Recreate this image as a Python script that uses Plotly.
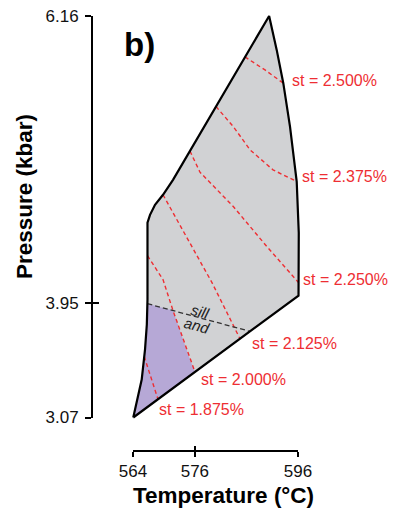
import numpy as np
import plotly.graph_objects as go

# ---------------- data (T in °C, P in kbar) ----------------
field_T = [564.05, 565.69, 566.33, 566.68, 566.81, 566.81, 567.30, 568.27, 569.82, 571.76,
           590.4, 591.87, 593.15, 594.45, 595.75, 596.15, 596.1, 564.05]
field_P = [3.07, 3.362, 3.593, 3.785, 3.977, 4.569, 4.630, 4.707, 4.784, 4.899,
           6.16, 5.899, 5.643, 5.309, 4.886, 4.492, 4.008, 3.07]

and_T = [564.05, 565.69, 566.33, 566.68, 566.79, 571.76, 575.05, 576.02, 564.05]
and_P = [3.07, 3.362, 3.593, 3.785, 3.946, 3.893, 3.516, 3.42, 3.07]

sill_T = [566.79, 586.69]
sill_P = [3.946, 3.733]

iso_labels = ["st = 2.500%", "st = 2.375%", "st = 2.250%", "st = 2.125%", "st = 2.000%", "st = 1.875%"]
iso_T = [
    [585.72, 589.6, 593.15],
    [580.10, 583.45, 586.69, 591.15, 595.75],
    [575.05, 576.99, 583.45, 589.93, 596.1],
    [569.82, 574.67, 579.32, 584.75],
    [566.81, 569.82, 571.76, 575.05, 576.02],
    [566.18, 568.85],
]
iso_P = [
    [5.845, 5.745, 5.643],
    [5.463, 5.309, 5.130, 4.976, 4.886],
    [5.12, 4.958, 4.694, 4.387, 4.108],
    [4.784, 4.438, 4.108, 3.676],
    [4.315, 4.131, 3.893, 3.516, 3.42],
    [3.539, 3.210],
]

x_ticks = [564, 576, 596]
y_ticks = [3.07, 3.95, 6.16]
x_range = [564, 596]
y_range = [3.07, 6.16]

# ---------------- styling / layout ----------------
OFF = 8  # page body margin
W, H = 397 - OFF, 508 - OFF
ML = 92 - OFF
MT = 10 - OFF
MB = H - (451 - OFF)
MR = W - (305 - OFF)
pw, ph = W - ML - MR, H - MT - MB

def px_x(p):  # reference-screenshot pixel -> paper x
    return (p - OFF - ML) / pw

def px_y(p):
    return (H - MB - (p - OFF)) / ph

xdom = [px_x(133), px_x(298)]
ydom = [px_y(417.5), px_y(16)]

def full_range(dom, rng):
    span = (rng[1] - rng[0]) / (dom[1] - dom[0])
    return [rng[0] - dom[0] * span, rng[0] + (1 - dom[0]) * span]

data_xr = full_range(xdom, x_range)
data_yr = full_range(ydom, y_range)

RED = "#ee2e33"
GRAY = "#d1d2d4"
PURPLE = "#b6a8d6"
FONT = "Liberation Sans, Arial, sans-serif"

fig = go.Figure()

fig.add_trace(go.Scatter(x=field_T, y=field_P, fill="toself", fillcolor=GRAY,
                         line=dict(width=0, color=GRAY), mode="lines", hoverinfo="skip"))
fig.add_trace(go.Scatter(x=and_T, y=and_P, fill="toself", fillcolor=PURPLE,
                         line=dict(width=0, color=PURPLE), mode="lines", hoverinfo="skip"))
for t, p in zip(iso_T, iso_P):
    fig.add_trace(go.Scatter(x=t, y=p, mode="lines",
                             line=dict(color=RED, width=1.4, dash="4px,3px"), hoverinfo="skip"))
fig.add_trace(go.Scatter(x=sill_T, y=sill_P, mode="lines",
                         line=dict(color="#333333", width=1.3, dash="5px,3px"), hoverinfo="skip"))
fig.add_trace(go.Scatter(x=field_T, y=field_P, mode="lines",
                         line=dict(color="black", width=2.2), hoverinfo="skip"))

# dummy traces for the visible offset axes
fig.add_trace(go.Scatter(x=[x_range[0]], y=[y_range[0]], xaxis="x2", yaxis="y2",
                         mode="markers", marker=dict(opacity=0), hoverinfo="skip"))
fig.add_trace(go.Scatter(x=[x_range[0]], y=[y_range[0]], xaxis="x3", yaxis="y3",
                         mode="markers", marker=dict(opacity=0), hoverinfo="skip"))

# isopleth labels at line ends
shifts = [(7, 3), (3, 5), (2, 3), (10, -5), (4, -7), (-1, -10)]
for lab, t, p, (dx, dy) in zip(iso_labels, iso_T, iso_P, shifts):
    fig.add_annotation(x=t[-1], y=p[-1], text=lab, showarrow=False, xanchor="left",
                       yanchor="middle", xshift=dx, yshift=dy,
                       font=dict(family=FONT, size=16, color=RED))

# sill / and labels along the reaction line
tl = 577.0
pl = float(np.interp(tl, sill_T, sill_P))
fig.add_annotation(x=tl, y=pl, text="<i>sill</i>", showarrow=False, textangle=15,
                   xanchor="center", yanchor="middle",
                   yshift=6, xshift=0, font=dict(family=FONT, size=15, color="#222222"))
fig.add_annotation(x=tl, y=pl, text="<i>and</i>", showarrow=False, textangle=15,
                   xanchor="center", yanchor="middle",
                   yshift=-8, xshift=-3, font=dict(family=FONT, size=15, color="#222222"))

# titles
fig.add_annotation(xref="paper", yref="paper", x=px_x(223), y=px_y(495), text="<b>Temperature (°C)</b>",
                   xanchor="center", yanchor="middle",
                   showarrow=False, font=dict(family=FONT, size=22.5, color="black"))
fig.add_annotation(xref="paper", yref="paper", x=px_x(25), y=px_y(197), text="<b>Pressure (kbar)</b>",
                   xanchor="center", yanchor="middle",
                   showarrow=False, textangle=-90, font=dict(family=FONT, size=22.5, color="black"))
fig.add_annotation(xref="paper", yref="paper", x=px_x(139), y=px_y(44), text="<b>b)</b>",
                   xanchor="center", yanchor="middle",
                   showarrow=False, font=dict(family=FONT, size=33, color="black"))

tickfont = dict(family=FONT, size=17, color="#111111")
common_x = dict(range=x_range, domain=xdom, anchor="free", position=0, tickvals=x_ticks,
                showgrid=False, zeroline=False, fixedrange=True, automargin=False,
                ticklabeloverflow="allow")
common_y = dict(range=y_range, domain=ydom, anchor="free", position=0, tickvals=y_ticks,
                showgrid=False, zeroline=False, fixedrange=True, automargin=False,
                ticklabeloverflow="allow")

fig.update_layout(
    template="none",
    width=W, height=H, margin=dict(l=ML, r=MR, t=MT, b=MB, pad=0),
    paper_bgcolor="white", plot_bgcolor="rgba(0,0,0,0)", showlegend=False,
    xaxis=dict(range=data_xr, domain=[0, 1], visible=False, fixedrange=True, automargin=False),
    yaxis=dict(range=data_yr, domain=[0, 1], visible=False, fixedrange=True, automargin=False),
    xaxis2=dict(**common_x, showline=True, linecolor="black", linewidth=2,
                ticks="outside", ticklen=5, tickwidth=2, tickcolor="black",
                tickfont=tickfont, ticktext=[str(v) for v in x_ticks]),
    yaxis2=dict(**common_y, showline=True, linecolor="black", linewidth=2,
                ticks="outside", ticklen=6, tickwidth=2, tickcolor="black",
                tickfont=tickfont, ticktext=["3.07", "3.95", "6.16"], ticklabelstandoff=3),
    xaxis3=dict(range=x_range, overlaying="x2", anchor="free", position=0, tickvals=x_ticks,
                ticks="inside", ticklen=5, tickwidth=2, tickcolor="black", automargin=False,
                showticklabels=False, showgrid=False, zeroline=False, showline=False, fixedrange=True),
    yaxis3=dict(range=y_range, overlaying="y2", anchor="free", position=0, tickvals=y_ticks,
                ticks="inside", ticklen=6, tickwidth=2, tickcolor="black", automargin=False,
                showticklabels=False, showgrid=False, zeroline=False, showline=False, fixedrange=True),
)

fig.write_html("out.html")
